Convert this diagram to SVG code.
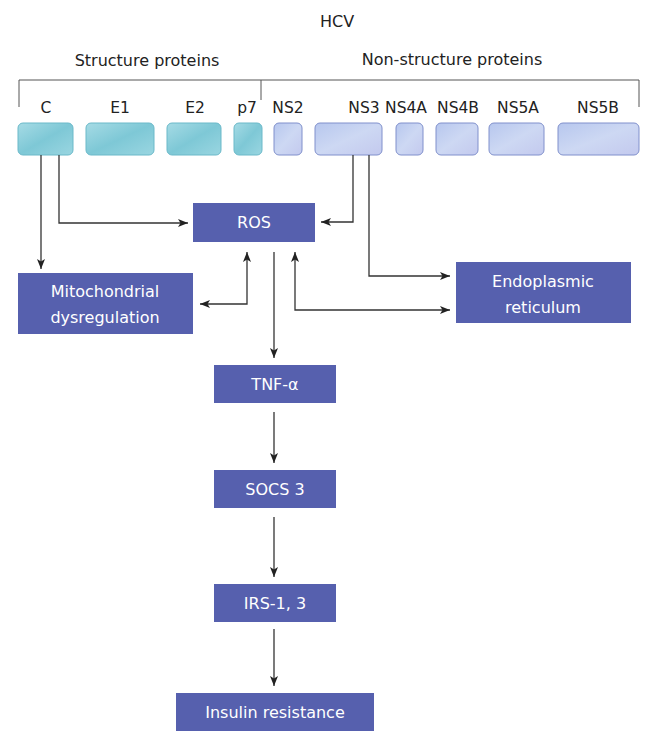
<svg xmlns="http://www.w3.org/2000/svg" width="656" height="745" viewBox="0 0 656 745">
<style>
text{font-family:"DejaVu Sans","Liberation Sans",sans-serif;font-size:16px;text-anchor:middle;}
.hdr{fill:#222;}
.lbl{fill:#222;font-size:15.5px;}
.node rect{fill:#5660ae;}
.node text{fill:#fff;}
.sp{stroke:#6ab9c9;stroke-width:1;fill:url(#gS);}
.np{stroke:#8090cc;stroke-width:1;fill:url(#gN);}
.con{fill:none;stroke:#333;stroke-width:1.3;}
.br{fill:none;stroke:#555;stroke-width:1;}
</style>
<defs>
<linearGradient id="gS" x1="0" y1="0" x2="1" y2="1">
<stop offset="0" stop-color="#a6dbe5"/><stop offset="0.5" stop-color="#7ec8d6"/><stop offset="1" stop-color="#9ad6e1"/>
</linearGradient>
<linearGradient id="gN" x1="0" y1="0" x2="1" y2="1">
<stop offset="0" stop-color="#b7c7ee"/><stop offset="0.5" stop-color="#cdd8f3"/><stop offset="1" stop-color="#c3c9ee"/>
</linearGradient>
<marker id="ah" markerUnits="userSpaceOnUse" markerWidth="10" markerHeight="8" refX="10" refY="4" orient="auto-start-reverse">
<path d="M0,0 L10,4 L0,8 L2.5,4 z" fill="#222"/>
</marker>
</defs>
<rect width="656" height="745" fill="#fff"/>
<text class="hdr" x="337" y="27">HCV</text>
<text class="hdr" x="147" y="66">Structure proteins</text>
<text class="hdr" x="452" y="65">Non-structure proteins</text>
<path class="br" d="M19,107 V80 H639 V107 M261,80 V100"/>
<g id="proteins">
<g id="p-C"><text class="lbl" x="46" y="113">C</text><rect class="sp" x="18" y="123" width="55" height="32" rx="5"/></g>
<g id="p-E1"><text class="lbl" x="120" y="113">E1</text><rect class="sp" x="86" y="123" width="68" height="32" rx="5"/></g>
<g id="p-E2"><text class="lbl" x="195" y="113">E2</text><rect class="sp" x="167" y="123" width="54" height="32" rx="5"/></g>
<g id="p-p7"><text class="lbl" x="247" y="113">p7</text><rect class="sp" x="234" y="123" width="28" height="32" rx="5"/></g>
<g id="p-NS2"><text class="lbl" x="288" y="113">NS2</text><rect class="np" x="274" y="123" width="28" height="32" rx="5"/></g>
<g id="p-NS3"><text class="lbl" x="364" y="113">NS3</text><rect class="np" x="315" y="123" width="67" height="32" rx="5"/></g>
<g id="p-NS4A"><text class="lbl" x="406" y="113">NS4A</text><rect class="np" x="396" y="123" width="27" height="32" rx="5"/></g>
<g id="p-NS4B"><text class="lbl" x="458" y="113">NS4B</text><rect class="np" x="436" y="123" width="42" height="32" rx="5"/></g>
<g id="p-NS5A"><text class="lbl" x="518" y="113">NS5A</text><rect class="np" x="489" y="123" width="55" height="32" rx="5"/></g>
<g id="p-NS5B"><text class="lbl" x="598" y="113">NS5B</text><rect class="np" x="558" y="123" width="81" height="32" rx="5"/></g>
</g>
<g id="connectors">
<path class="con" d="M41,155 V269" marker-end="url(#ah)"/>
<path class="con" d="M59,155 V223 H188" marker-end="url(#ah)"/>
<path class="con" d="M353,155 V222 H321" marker-end="url(#ah)"/>
<path class="con" d="M369,155 V276 H450" marker-end="url(#ah)"/>
<path class="con" d="M200,304 H247 V252" marker-start="url(#ah)" marker-end="url(#ah)"/>
<path class="con" d="M295,252 V310 H450" marker-start="url(#ah)" marker-end="url(#ah)"/>
<path class="con" d="M274,252 V358" marker-end="url(#ah)"/>
<path class="con" d="M274,412 V463" marker-end="url(#ah)"/>
<path class="con" d="M274,517 V577" marker-end="url(#ah)"/>
<path class="con" d="M274,629 V686" marker-end="url(#ah)"/>
</g>
<g id="ros" class="node"><rect x="193" y="203" width="122" height="39"/><text x="254" y="228">ROS</text></g>
<g id="mito" class="node"><rect x="18" y="273" width="175" height="61"/><text x="105" y="297">Mitochondrial</text><text x="105" y="323">dysregulation</text></g>
<g id="er" class="node"><rect x="456" y="262" width="175" height="61"/><text x="543" y="287">Endoplasmic</text><text x="543" y="313">reticulum</text></g>
<g id="tnf" class="node"><rect x="214" y="365" width="122" height="38"/><text x="275" y="390">TNF-α</text></g>
<g id="socs" class="node"><rect x="214" y="470" width="122" height="38"/><text x="275" y="495">SOCS 3</text></g>
<g id="irs" class="node"><rect x="214" y="584" width="122" height="38"/><text x="275" y="609">IRS-1, 3</text></g>
<g id="ins" class="node"><rect x="176" y="693" width="198" height="38"/><text x="275" y="718">Insulin resistance</text></g>
</svg>
